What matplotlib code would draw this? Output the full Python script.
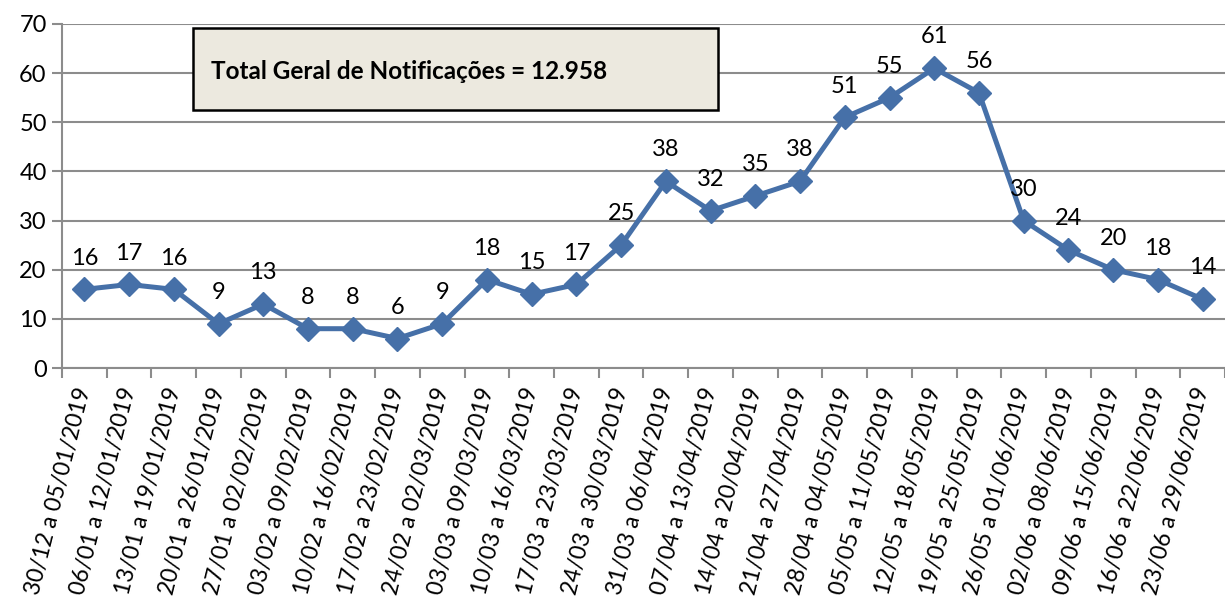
import numpy as np
import matplotlib.pyplot as plt
from matplotlib.patches import Rectangle

semanas = ['30/12 a 05/01/2019', '06/01 a 12/01/2019', '13/01 a 19/01/2019',
           '20/01 a 26/01/2019', '27/01 a 02/02/2019', '03/02 a 09/02/2019',
           '10/02 a 16/02/2019', '17/02 a 23/02/2019', '24/02 a 02/03/2019',
           '03/03 a 09/03/2019', '10/03 a 16/03/2019', '17/03 a 23/03/2019',
           '24/03 a 30/03/2019', '31/03 a 06/04/2019', '07/04 a 13/04/2019',
           '14/04 a 20/04/2019', '21/04 a 27/04/2019', '28/04 a 04/05/2019',
           '05/05 a 11/05/2019', '12/05 a 18/05/2019', '19/05 a 25/05/2019',
           '26/05 a 01/06/2019', '02/06 a 08/06/2019', '09/06 a 15/06/2019',
           '16/06 a 22/06/2019', '23/06 a 29/06/2019']
notificacoes = [16, 17, 16, 9, 13, 8, 8, 6, 9, 18, 15, 17, 25, 38, 32, 35, 38,
                51, 55, 61, 56, 30, 24, 20, 18, 14]
total_txt = 'Total Geral de Notificações = 12.958'

plt.rcParams['font.family'] = ['Lato', 'DejaVu Sans']

line_col = '#4670A8'
grid_col = '#8C8C8C'

fig = plt.figure(figsize=(12.25, 6.03), dpi=100)
ax = fig.add_axes([0.0506, 0.3897, 0.9494, 0.5705])

x = np.arange(len(notificacoes))
ax.plot(x, notificacoes, color=line_col, lw=3.6, marker='D', ms=12,
        mec=line_col, mfc=line_col, zorder=3)

for xi, yi in zip(x, notificacoes):
    ax.annotate(str(yi), (xi, yi), xytext=(0, 15), textcoords='offset points',
                ha='center', va='bottom', fontsize=17, color='black')

ax.set_xlim(-0.5, len(notificacoes) - 0.5)
ax.set_ylim(0, 70)
ax.set_yticks(np.arange(0, 71, 10))
ax.yaxis.grid(True, color=grid_col, lw=1.5)
ax.set_axisbelow(True)

ax.set_xticks(np.arange(-0.5, len(notificacoes), 1.0))
ax.set_xticklabels([])
ax.set_xticks(x, minor=True)
ax.set_xticklabels(semanas, minor=True, rotation=76, ha='right', va='center',
                   rotation_mode='anchor', fontsize=16.5)
ax.tick_params(axis='x', which='major', length=7, width=1.5, color=grid_col,
               direction='out')
ax.tick_params(axis='x', which='minor', length=0, pad=14)
ax.tick_params(axis='y', length=7, width=1.5, color=grid_col, labelsize=17,
               pad=4)

for s in ['top', 'right']:
    ax.spines[s].set_visible(False)
for s in ['left', 'bottom']:
    ax.spines[s].set_color(grid_col)
    ax.spines[s].set_linewidth(1.5)

# caixa com o total
ax.add_patch(Rectangle((0.1126, 0.75), 0.4514, 0.238, transform=ax.transAxes,
                       fc='#ECE9DF', ec='black', lw=1.8, zorder=5,
                       clip_on=False))
ax.text(0.128, 0.862, total_txt, transform=ax.transAxes, fontsize=17.5,
        fontweight='bold', va='center', ha='left', zorder=6)

fig.savefig('out.png', dpi=100)
